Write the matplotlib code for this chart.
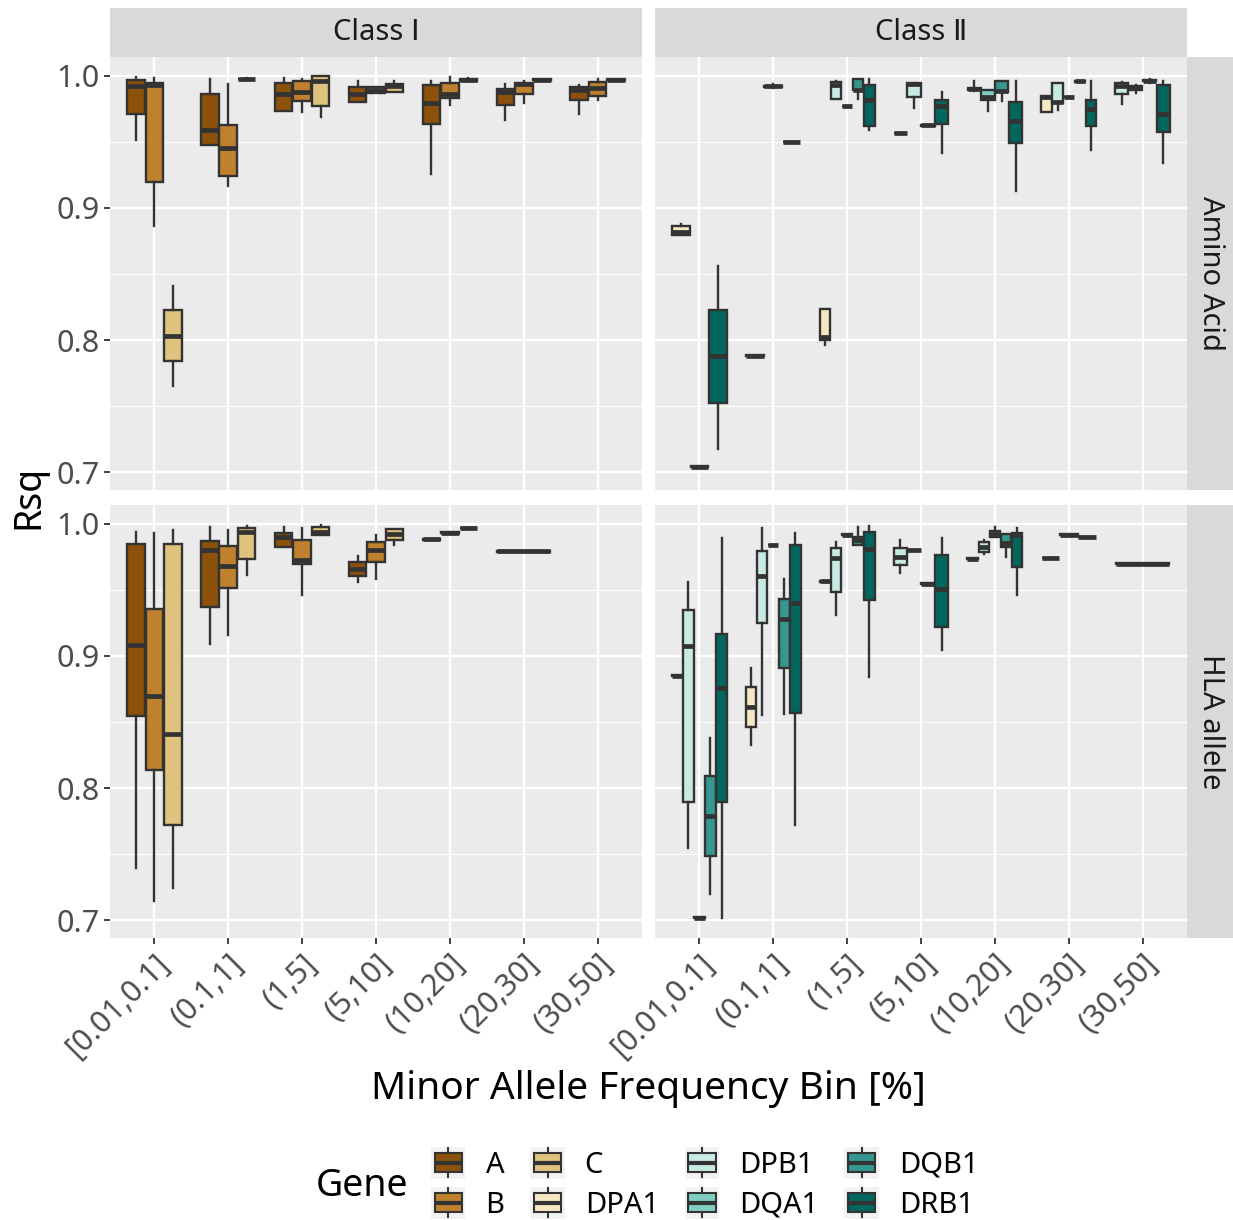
import matplotlib
matplotlib.use('Agg')
import matplotlib.pyplot as plt
from matplotlib.patches import Rectangle, Patch
from matplotlib.lines import Line2D
from matplotlib.legend_handler import HandlerBase

plt.rcParams['font.family'] = ['Noto Sans', 'DejaVu Sans']

# data ---------------------------------------------------------------
BINS = ['[0.01,0.1]', '(0.1,1]', '(1,5]', '(5,10]', '(10,20]', '(20,30]', '(30,50]']
GENES = ['A', 'B', 'C', 'DPA1', 'DPB1', 'DQA1', 'DQB1', 'DRB1']
GENE_COLORS = ['#8C510A', '#BF812D', '#DFC27D', '#F6E8C3',
               '#C7EAE5', '#80CDC1', '#35978F', '#01665E']
COLUMNS = ['Class Ⅰ', 'Class Ⅱ']
ROWS = ['Amino Acid', 'HLA allele']

# (bin, gene, lower whisker, q1, median, q3, upper whisker)
AA_CLASS1 = [
    (0, 'A', 0.9515, 0.9711, 0.9917, 0.9968, 0.9985),
    (0, 'B', 0.8862, 0.9196, 0.9930, 0.9942, 0.9983),
    (0, 'C', 0.7656, 0.7839, 0.8033, 0.8224, 0.8410),
    (1, 'A', 0.9472, 0.9472, 0.9591, 0.9862, 0.9975),
    (1, 'B', 0.9163, 0.9238, 0.9455, 0.9623, 0.9937),
    (1, 'C', 0.9972, 0.9973, 0.9975, 0.9977, 0.9978),
    (2, 'A', 0.9729, 0.9729, 0.9862, 0.9942, 0.9983),
    (2, 'B', 0.9724, 0.9806, 0.9874, 0.9955, 0.9975),
    (2, 'C', 0.9686, 0.9766, 0.9962, 0.9995, 0.9995),
    (3, 'A', 0.9797, 0.9797, 0.9860, 0.9912, 0.9962),
    (3, 'B', 0.9867, 0.9867, 0.9890, 0.9912, 0.9912),
    (3, 'C', 0.9879, 0.9879, 0.9917, 0.9937, 0.9962),
    (4, 'A', 0.9254, 0.9636, 0.9791, 0.9925, 0.9957),
    (4, 'B', 0.9780, 0.9829, 0.9862, 0.9945, 0.9987),
    (4, 'C', 0.9955, 0.9962, 0.9968, 0.9973, 0.9978),
    (5, 'A', 0.9666, 0.9774, 0.9874, 0.9900, 0.9937),
    (5, 'B', 0.9791, 0.9862, 0.9935, 0.9942, 0.9962),
    (5, 'C', 0.9955, 0.9963, 0.9968, 0.9972, 0.9975),
    (6, 'A', 0.9706, 0.9817, 0.9892, 0.9912, 0.9930),
    (6, 'B', 0.9812, 0.9842, 0.9904, 0.9950, 0.9975),
    (6, 'C', 0.9962, 0.9965, 0.9968, 0.9972, 0.9975),
]

AA_CLASS2 = [
    (0, 'DPA1', 0.8794, 0.8794, 0.8819, 0.8862, 0.8875),
    (0, 'DQA1', 0.7038, 0.7038, 0.7043, 0.7048, 0.7048),
    (0, 'DRB1', 0.7177, 0.7521, 0.7882, 0.8224, 0.8563),
    (1, 'DPA1', 0.7880, 0.7880, 0.7882, 0.7884, 0.7884),
    (1, 'DQA1', 0.9905, 0.9915, 0.9919, 0.9923, 0.9935),
    (1, 'DQB1', 0.9496, 0.9496, 0.9498, 0.9500, 0.9500),
    (2, 'DPA1', 0.7965, 0.8003, 0.8023, 0.8237, 0.8237),
    (2, 'DPB1', 0.9819, 0.9819, 0.9930, 0.9950, 0.9957),
    (2, 'DQA1', 0.9767, 0.9767, 0.9769, 0.9771, 0.9771),
    (2, 'DQB1', 0.9824, 0.9887, 0.9890, 0.9975, 0.9975),
    (2, 'DRB1', 0.9586, 0.9618, 0.9812, 0.9932, 0.9975),
    (3, 'DPA1', 0.9564, 0.9564, 0.9566, 0.9568, 0.9568),
    (3, 'DPB1', 0.9754, 0.9837, 0.9935, 0.9942, 0.9942),
    (3, 'DQB1', 0.9621, 0.9621, 0.9623, 0.9625, 0.9625),
    (3, 'DRB1', 0.9417, 0.9631, 0.9766, 0.9812, 0.9879),
    (4, 'DPB1', 0.9880, 0.9887, 0.9895, 0.9905, 0.9957),
    (4, 'DQA1', 0.9731, 0.9817, 0.9835, 0.9892, 0.9892),
    (4, 'DQB1', 0.9806, 0.9879, 0.9885, 0.9962, 0.9962),
    (4, 'DRB1', 0.9126, 0.9493, 0.9653, 0.9799, 0.9962),
    (5, 'DPA1', 0.9724, 0.9724, 0.9837, 0.9842, 0.9842),
    (5, 'DPB1', 0.9741, 0.9791, 0.9800, 0.9942, 0.9942),
    (5, 'DQA1', 0.9835, 0.9835, 0.9837, 0.9839, 0.9839),
    (5, 'DQB1', 0.9953, 0.9953, 0.9955, 0.9957, 0.9957),
    (5, 'DRB1', 0.9435, 0.9618, 0.9749, 0.9812, 0.9957),
    (6, 'DPB1', 0.9787, 0.9857, 0.9920, 0.9942, 0.9950),
    (6, 'DQA1', 0.9870, 0.9890, 0.9904, 0.9918, 0.9925),
    (6, 'DQB1', 0.9945, 0.9958, 0.9962, 0.9968, 0.9972),
    (6, 'DRB1', 0.9339, 0.9573, 0.9711, 0.9932, 0.9962),
]

HLA_CLASS1 = [
    (0, 'A', 0.7398, 0.8546, 0.9081, 0.9847, 0.9935),
    (0, 'B', 0.7142, 0.8133, 0.8699, 0.9350, 0.9930),
    (0, 'C', 0.7247, 0.7719, 0.8410, 0.9847, 0.9952),
    (1, 'A', 0.9088, 0.9365, 0.9797, 0.9867, 0.9972),
    (1, 'B', 0.9156, 0.9512, 0.9676, 0.9829, 0.9950),
    (1, 'C', 0.9613, 0.9729, 0.9935, 0.9967, 0.9982),
    (2, 'A', 0.9822, 0.9822, 0.9897, 0.9927, 0.9977),
    (2, 'B', 0.9457, 0.9691, 0.9721, 0.9877, 0.9967),
    (2, 'C', 0.9910, 0.9910, 0.9935, 0.9977, 0.9987),
    (3, 'A', 0.9558, 0.9600, 0.9655, 0.9709, 0.9751),
    (3, 'B', 0.9583, 0.9709, 0.9802, 0.9859, 0.9915),
    (3, 'C', 0.9834, 0.9872, 0.9922, 0.9960, 0.9960),
    (4, 'A', 0.9878, 0.9878, 0.9880, 0.9882, 0.9882),
    (4, 'B', 0.9930, 0.9930, 0.9932, 0.9934, 0.9934),
    (4, 'C', 0.9963, 0.9963, 0.9965, 0.9967, 0.9967),
    (5, 'A', 0.9787, 0.9787, 0.9789, 0.9791, 0.9791),
]

HLA_CLASS2 = [
    (0, 'DPA1', 0.8847, 0.8847, 0.8849, 0.8851, 0.8851),
    (0, 'DPB1', 0.7543, 0.7895, 0.9075, 0.9344, 0.9558),
    (0, 'DQA1', 0.7019, 0.7019, 0.7021, 0.7023, 0.7023),
    (0, 'DQB1', 0.7197, 0.7489, 0.7792, 0.8093, 0.8382),
    (0, 'DRB1', 0.7014, 0.7895, 0.8759, 0.9161, 0.9889),
    (1, 'DPA1', 0.8322, 0.8465, 0.8616, 0.8767, 0.8910),
    (1, 'DPB1', 0.8553, 0.9244, 0.9603, 0.9789, 0.9965),
    (1, 'DQA1', 0.9837, 0.9837, 0.9839, 0.9841, 0.9841),
    (1, 'DQB1', 0.8558, 0.8910, 0.9277, 0.9432, 0.9583),
    (1, 'DRB1', 0.7717, 0.8566, 0.9399, 0.9834, 0.9927),
    (2, 'DPA1', 0.9561, 0.9561, 0.9563, 0.9565, 0.9565),
    (2, 'DPB1', 0.9312, 0.9482, 0.9741, 0.9817, 0.9864),
    (2, 'DQA1', 0.9913, 0.9913, 0.9915, 0.9917, 0.9917),
    (2, 'DQB1', 0.9839, 0.9839, 0.9877, 0.9897, 0.9977),
    (2, 'DRB1', 0.8837, 0.9420, 0.9809, 0.9935, 0.9980),
    (3, 'DPB1', 0.9626, 0.9683, 0.9746, 0.9817, 0.9872),
    (3, 'DQA1', 0.9798, 0.9798, 0.9800, 0.9802, 0.9802),
    (3, 'DQB1', 0.9543, 0.9543, 0.9545, 0.9547, 0.9547),
    (3, 'DRB1', 0.9043, 0.9219, 0.9503, 0.9764, 0.9889),
    (4, 'DPA1', 0.9732, 0.9732, 0.9734, 0.9736, 0.9736),
    (4, 'DPB1', 0.9769, 0.9784, 0.9821, 0.9859, 0.9876),
    (4, 'DQA1', 0.9897, 0.9897, 0.9920, 0.9940, 0.9975),
    (4, 'DQB1', 0.9746, 0.9821, 0.9855, 0.9922, 0.9922),
    (4, 'DRB1', 0.9457, 0.9671, 0.9910, 0.9927, 0.9965),
    (5, 'DPA1', 0.9737, 0.9737, 0.9739, 0.9741, 0.9741),
    (5, 'DPB1', 0.9913, 0.9913, 0.9915, 0.9917, 0.9917),
    (5, 'DQA1', 0.9895, 0.9895, 0.9897, 0.9899, 0.9899),
    (6, 'DQA1', 0.9694, 0.9694, 0.9696, 0.9698, 0.9698),
]

# layout / style ------------------------------------------------------
W, H = 1233, 1220
DODGE = 0.75
EDGE = '#333333'
YLIM = (0.6866, 1.0140)


def px_axes(fig, x0, y0, x1, y1):
    return fig.add_axes([x0 / W, 1 - y1 / H, (x1 - x0) / W, (y1 - y0) / H])


def draw_panel(ax, rows):
    by_bin = {}
    for r in rows:
        by_bin.setdefault(r[0], []).append(r)
    for b, items in by_bin.items():
        items.sort(key=lambda r: GENES.index(r[1]))
        n = len(items)
        w = DODGE / n
        stats, pos, cols = [], [], []
        for i, (bi, g, lo, q1, med, q3, hi) in enumerate(items):
            stats.append(dict(whislo=lo, q1=q1, med=med, q3=q3, whishi=hi))
            pos.append(b + 1 - DODGE / 2 + (i + 0.5) * w)
            cols.append(GENE_COLORS[GENES.index(g)])
        bp = ax.bxp(stats, positions=pos, widths=w * 0.95, patch_artist=True,
                    showcaps=False, showfliers=False, manage_ticks=False,
                    boxprops=dict(edgecolor=EDGE, linewidth=1.7),
                    whiskerprops=dict(color=EDGE, linewidth=1.7),
                    medianprops=dict(color=EDGE, linewidth=3.4, solid_capstyle='butt'))
        for patch, c in zip(bp['boxes'], cols):
            patch.set_facecolor(c)


def style_axes(ax, show_x, show_y):
    ax.set_facecolor('#EBEBEB')
    for s in ax.spines.values():
        s.set_visible(False)
    ax.set_xlim(0.4, 7.6)
    ax.set_ylim(*YLIM)
    ax.set_xticks(range(1, 8))
    ax.set_yticks([0.7, 0.8, 0.9, 1.0])
    ax.set_yticks([0.75, 0.85, 0.95], minor=True)
    ax.set_axisbelow(True)
    ax.grid(which='major', color='white', linewidth=1.7)
    ax.grid(which='minor', axis='y', color='white', linewidth=0.8)
    ax.tick_params(which='minor', length=0)
    ax.tick_params(which='major', length=4, width=1.3, color=EDGE,
                   labelcolor='#4D4D4D', labelsize=22)
    if show_y:
        ax.set_yticklabels(['0.7', '0.8', '0.9', '1.0'])
    else:
        ax.tick_params(axis='y', length=0, labelleft=False)
    if show_x:
        ax.set_xticklabels(BINS, rotation=45, ha='right', va='top',
                           rotation_mode='anchor')
    else:
        ax.tick_params(axis='x', length=0, labelbottom=False)


class BoxKeyHandler(HandlerBase):
    def create_artists(self, legend, orig_handle, xdescent, ydescent,
                       width, height, fontsize, trans):
        x0, y0 = -xdescent, -ydescent
        bg = Rectangle((x0 - 0.06 * width, y0 - 0.14 * height), width * 1.12,
                       height * 1.28, facecolor='#F2F2F2', edgecolor='none',
                       transform=trans)
        cx = x0 + width / 2
        wl = Line2D([cx, cx], [y0 - 0.08 * height, y0 + 1.08 * height],
                    color=EDGE, lw=1.5, transform=trans)
        box = Rectangle((x0 + 0.05 * width, y0 + 0.12 * height), 0.9 * width,
                        0.76 * height, facecolor=orig_handle.get_facecolor(),
                        edgecolor=EDGE, lw=1.5, transform=trans)
        med = Line2D([x0 + 0.05 * width, x0 + 0.95 * width],
                     [y0 + 0.5 * height] * 2, color=EDGE, lw=3.0,
                     solid_capstyle='butt', transform=trans)
        return [bg, wl, box, med]


fig = plt.figure(figsize=(W / 100, H / 100), dpi=100)

panel_x = [(110, 642), (655, 1187)]
panel_y = [(57, 490), (505, 938)]
data = [[AA_CLASS1, AA_CLASS2], [HLA_CLASS1, HLA_CLASS2]]

for r, (y0, y1) in enumerate(panel_y):
    for c, (x0, x1) in enumerate(panel_x):
        ax = px_axes(fig, x0, y0, x1, y1)
        style_axes(ax, show_x=(r == 1), show_y=(c == 0))
        draw_panel(ax, data[r][c])

# strips
for c, (x0, x1) in enumerate(panel_x):
    sax = px_axes(fig, x0, 8, x1, 57)
    sax.set_facecolor('#D9D9D9')
    sax.set_xticks([]); sax.set_yticks([])
    for s in sax.spines.values():
        s.set_visible(False)
    sax.text(0.5, 0.5, COLUMNS[c], ha='center', va='center', fontsize=21,
             color='#1A1A1A', transform=sax.transAxes)
for r, (y0, y1) in enumerate(panel_y):
    sax = px_axes(fig, 1187, y0, 1233, y1)
    sax.set_facecolor('#D9D9D9')
    sax.set_xticks([]); sax.set_yticks([])
    for s in sax.spines.values():
        s.set_visible(False)
    sax.text(0.52, 0.5, ROWS[r], ha='center', va='center', fontsize=21,
             color='#1A1A1A', rotation=-90, transform=sax.transAxes)

fig.text(28 / W, 1 - 497 / H, 'Rsq', rotation=90, ha='center', va='center',
         fontsize=27)
fig.text(648 / W, 1 - 1089 / H, 'Minor Allele Frequency Bin [%]',
         ha='center', va='center', fontsize=28)

# legend
handles = [Patch(facecolor=c, edgecolor=EDGE) for c in GENE_COLORS]
fig.text(362 / W, 1 - 1186 / H, 'Gene', ha='center', va='center', fontsize=27)
fig.legend(handles, GENES, handler_map={Patch: BoxKeyHandler()}, ncol=4,
           loc='center left', bbox_to_anchor=(433 / W, 1 - 1185 / H),
           frameon=False, fontsize=21, handlelength=1.05, handleheight=0.95,
           handletextpad=0.75, columnspacing=0.95, labelspacing=0.35,
           borderpad=0, borderaxespad=0)

fig.savefig('out.png', dpi=100)
